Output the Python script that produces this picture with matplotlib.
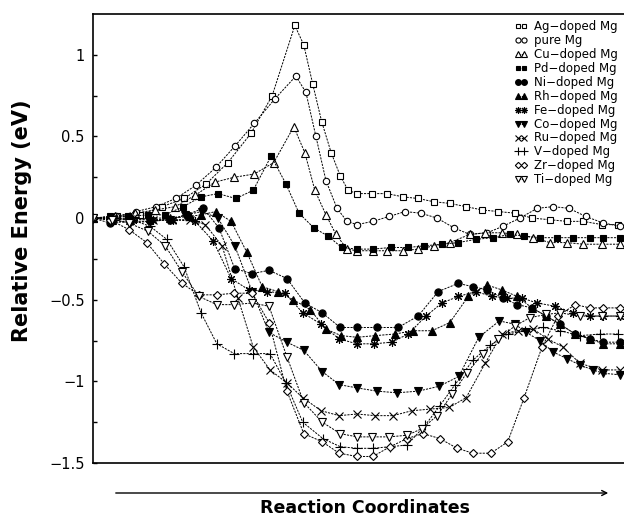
import matplotlib
matplotlib.use("Agg")
import matplotlib.pyplot as plt

# ---- data (reaction coordinate in arbitrary units, energy in eV) ----
ag_x = [0, 4.6, 8.9, 13.1, 17.3, 21.5, 25.6, 30.0, 34.0, 38.3, 40.0, 41.7, 43.4, 45.2, 46.9, 48.4, 50.1,
        52.9, 55.8, 58.8, 61.7, 64.7, 67.7, 70.8, 73.8, 76.9, 80.1, 83.3, 86.7, 89.9, 93.0, 96.6, 99.6]
ag_y = [0, 0.01, 0.02, 0.07, 0.12, 0.21, 0.34, 0.52, 0.75, 1.18, 1.06, 0.82, 0.59, 0.40, 0.26, 0.17, 0.15,
        0.15, 0.15, 0.13, 0.12, 0.10, 0.09, 0.07, 0.05, 0.04, 0.03, 0, -0.01, -0.02, -0.02, -0.04, -0.04]

pure_x = [0, 4.4, 8.2, 12.0, 15.7, 19.5, 23.3, 26.9, 30.6, 34.5, 38.5, 40.4, 42.3, 44.2, 46.3, 48.2, 50.1,
          53.1, 56.2, 59.2, 62.2, 65.3, 68.5, 71.5, 74.8, 77.8, 81.0, 84.3, 87.3, 90.3, 93.5, 96.8, 100.0]
pure_y = [0, 0.01, 0.04, 0.07, 0.12, 0.20, 0.31, 0.44, 0.58, 0.73, 0.87, 0.77, 0.50, 0.23, 0.06, -0.02, -0.04,
          -0.02, 0.01, 0.04, 0.03, 0, -0.06, -0.10, -0.09, -0.05, 0, 0.06, 0.07, 0.06, 0.01, -0.03, -0.05]

cu_x = [0, 4.2, 8.0, 11.8, 15.6, 19.4, 23.1, 26.8, 30.6, 34.3, 38.1, 40.2, 42.1, 44.2, 46.1, 48.2, 50.1,
        53.1, 55.8, 58.8, 61.7, 64.7, 67.7, 71.5, 74.4, 77.6, 80.5, 83.5, 86.7, 89.9, 93.0, 96.6, 100.0]
cu_y = [0, 0.01, 0.03, 0.05, 0.07, 0.14, 0.22, 0.25, 0.27, 0.34, 0.56, 0.40, 0.17, 0.02, -0.10, -0.19, -0.20,
        -0.20, -0.20, -0.20, -0.19, -0.17, -0.15, -0.10, -0.09, -0.09, -0.10, -0.12, -0.15, -0.15, -0.16, -0.16, -0.16]

pd_x = [0, 3.2, 6.6, 10.4, 13.7, 17.1, 20.5, 23.7, 27.1, 30.4, 33.8, 36.6, 39.1, 41.9, 44.6, 47.2, 50.1,
        53.1, 56.5, 59.8, 62.8, 66.2, 69.3, 72.7, 75.9, 79.1, 81.8, 84.8, 88.0, 91.1, 94.3, 96.8, 100.0]
pd_y = [0, 0.01, 0.01, 0.02, 0.02, 0.07, 0.13, 0.15, 0.12, 0.17, 0.38, 0.21, 0.03, -0.06, -0.11, -0.18, -0.19,
        -0.19, -0.18, -0.18, -0.17, -0.16, -0.15, -0.13, -0.12, -0.10, -0.11, -0.12, -0.12, -0.12, -0.12, -0.12, -0.12]

ni_x = [0, 3.2, 7.0, 10.8, 14.6, 17.8, 20.9, 23.9, 26.9, 30.2, 33.4, 36.8, 40.2, 43.5, 46.9, 50.1,
        53.9, 57.9, 61.7, 65.5, 69.3, 72.1, 74.8, 77.8, 80.5, 83.3, 86.0, 88.6, 91.5, 94.3, 96.8, 100.0]
ni_y = [0, -0.03, -0.02, -0.02, -0.01, 0.02, 0.06, -0.06, -0.31, -0.34, -0.32, -0.37, -0.52, -0.58, -0.67, -0.67,
        -0.67, -0.67, -0.60, -0.45, -0.40, -0.42, -0.44, -0.49, -0.53, -0.55, -0.60, -0.65, -0.71, -0.74, -0.76, -0.76]

rh_x = [0, 3.6, 7.0, 10.8, 14.6, 18.4, 20.5, 23.3, 26.2, 29.2, 32.1, 35.1, 38.0, 41.2, 44.2, 47.1, 50.1,
        53.5, 57.3, 60.7, 64.3, 67.7, 71.2, 74.8, 77.6, 80.5, 83.3, 86.0, 88.6, 91.5, 94.3, 96.8, 100.0]
rh_y = [0, -0.01, -0.01, 0, 0, 0.01, 0.02, 0.04, -0.02, -0.21, -0.42, -0.45, -0.50, -0.56, -0.68, -0.72, -0.73,
        -0.72, -0.71, -0.69, -0.69, -0.64, -0.48, -0.41, -0.44, -0.48, -0.55, -0.60, -0.65, -0.71, -0.74, -0.77, -0.77]

fe_x = [0, 3.8, 7.6, 11.4, 15.2, 19.4, 22.8, 26.2, 29.6, 33.0, 36.4, 39.8, 43.3, 46.7, 50.1, 53.3,
        56.7, 59.8, 63.2, 66.2, 69.3, 72.7, 75.7, 78.6, 81.4, 84.3, 87.7, 91.1, 94.3, 96.8, 100.0]
fe_y = [0, 0, -0.01, -0.01, -0.01, -0.02, -0.14, -0.37, -0.44, -0.45, -0.46, -0.58, -0.65, -0.74, -0.77, -0.77,
        -0.76, -0.71, -0.60, -0.52, -0.48, -0.45, -0.48, -0.49, -0.49, -0.52, -0.54, -0.58, -0.60, -0.60, -0.60]

co_x = [0, 3.8, 7.0, 10.8, 14.6, 17.5, 20.7, 23.7, 26.9, 30.2, 33.4, 36.8, 40.0, 43.5, 46.7, 50.1,
        53.9, 57.7, 61.7, 65.7, 69.4, 73.2, 77.1, 80.1, 82.2, 84.8, 87.3, 89.9, 92.4, 94.9, 96.8, 100.0]
co_y = [0, -0.01, -0.03, -0.02, -0.01, 0.02, 0.04, 0, -0.17, -0.45, -0.70, -0.76, -0.81, -0.94, -1.02, -1.04,
        -1.06, -1.07, -1.06, -1.03, -0.97, -0.73, -0.63, -0.65, -0.70, -0.75, -0.82, -0.86, -0.90, -0.93, -0.95, -0.96]

ru_x = [0, 3.8, 7.6, 11.4, 15.0, 18.4, 21.3, 24.5, 27.5, 30.4, 33.6, 36.8, 39.8, 43.3, 46.7, 50.1,
        53.5, 56.9, 60.5, 63.9, 67.6, 70.8, 74.4, 77.6, 80.6, 83.5, 86.3, 89.2, 92.4, 96.6, 100.0]
ru_y = [0, 0, 0, -0.01, -0.01, -0.01, -0.04, -0.17, -0.49, -0.79, -0.93, -1.01, -1.10, -1.18, -1.21, -1.20,
        -1.21, -1.21, -1.18, -1.17, -1.16, -1.10, -0.89, -0.71, -0.69, -0.68, -0.74, -0.79, -0.89, -0.93, -0.93]

v_x = [0, 3.6, 7.4, 10.8, 14.0, 17.3, 20.5, 23.5, 26.8, 30.4, 33.6, 36.6, 39.8, 43.6, 46.9, 50.1,
       53.1, 56.4, 59.6, 63.0, 65.8, 68.7, 72.1, 75.3, 78.7, 81.9, 85.4, 88.6, 92.4, 96.2, 99.6]
v_y = [0, 0, -0.01, -0.05, -0.13, -0.30, -0.58, -0.77, -0.83, -0.83, -0.83, -1.01, -1.25, -1.35, -1.40, -1.41,
       -1.41, -1.40, -1.39, -1.27, -1.15, -1.02, -0.87, -0.78, -0.71, -0.69, -0.67, -0.69, -0.72, -0.71, -0.71]

zr_x = [0, 3.2, 6.8, 10.2, 13.5, 16.9, 20.1, 23.5, 26.8, 30.2, 33.4, 36.8, 40.0, 43.5, 46.7, 50.1,
        53.1, 56.4, 59.6, 62.6, 65.8, 69.1, 72.1, 75.5, 78.7, 81.8, 85.2, 88.2, 91.5, 94.3, 96.8, 100.0]
zr_y = [0, -0.01, -0.07, -0.15, -0.28, -0.40, -0.47, -0.47, -0.46, -0.46, -0.64, -1.06, -1.32, -1.37, -1.44, -1.46,
        -1.46, -1.40, -1.35, -1.32, -1.35, -1.41, -1.44, -1.44, -1.37, -1.10, -0.79, -0.60, -0.53, -0.55, -0.55, -0.55]

ti_x = [0, 3.6, 6.8, 10.4, 13.7, 16.9, 20.1, 23.5, 26.8, 30.2, 33.4, 36.8, 40.0, 43.5, 46.9, 50.1,
        52.9, 56.2, 59.6, 62.4, 65.3, 68.1, 70.9, 74.0, 76.9, 80.1, 82.9, 86.0, 88.6, 92.4, 96.6, 100.0]
ti_y = [0, -0.01, -0.03, -0.08, -0.17, -0.33, -0.48, -0.53, -0.53, -0.52, -0.54, -0.85, -1.13, -1.25, -1.32, -1.34,
        -1.34, -1.34, -1.33, -1.29, -1.21, -1.08, -0.95, -0.83, -0.74, -0.66, -0.61, -0.59, -0.58, -0.60, -0.60, -0.60]

ytick_values = [-1.5, -1.25, -1.0, -0.75, -0.5, -0.25, 0, 0.25, 0.5, 0.75, 1.0]
ytick_labels = ["\u22121.5", "", "\u22121", "", "\u22120.5", "", "0", "", "0.5", "", "1"]

# (label, x, y, marker, filled, size)
series = [
    ("Ag\u2212doped Mg", ag_x, ag_y, "s", False, 4.4),
    ("pure Mg", pure_x, pure_y, "o", False, 4.6),
    ("Cu\u2212doped Mg", cu_x, cu_y, "^", False, 5.4),
    ("Pd\u2212doped Mg", pd_x, pd_y, "s", True, 4.4),
    ("Ni\u2212doped Mg", ni_x, ni_y, "o", True, 5.2),
    ("Rh\u2212doped Mg", rh_x, rh_y, "^", True, 5.4),
    ("Fe\u2212doped Mg", fe_x, fe_y, (8, 2, 0), True, 6.2),
    ("Co\u2212doped Mg", co_x, co_y, "v", True, 5.4),
    ("Ru\u2212doped Mg", ru_x, ru_y, "x", True, 5.8),
    ("V\u2212doped Mg", v_x, v_y, "+", True, 7.2),
    ("Zr\u2212doped Mg", zr_x, zr_y, "D", False, 4.0),
    ("Ti\u2212doped Mg", ti_x, ti_y, "v", False, 5.4),
]

fig = plt.figure(figsize=(6.24, 5.18), dpi=100)
ax = fig.add_axes([93 / 624, 1 - 463 / 518, 1 - 93 / 624, (463 - 14) / 518])

for label, xs, ys, mk, filled, ms in series:
    ax.plot(xs, ys, color="black", linestyle=(0, (2.2, 1.2)), linewidth=0.7,
            marker=mk, markersize=ms, markerfacecolor="black" if filled else "white",
            markeredgecolor="black", markeredgewidth=0.8, label=label)

ax.set_xlim(0, 100.76)
ax.set_ylim(-1.5, 1.25)
ax.set_xticks([])
ax.set_yticks(ytick_values)
ax.set_yticklabels(ytick_labels, fontsize=10.5)
ax.tick_params(axis="y", direction="in", length=3, width=1, pad=6)
ax.spines["right"].set_visible(False)
for s in ("left", "top", "bottom"):
    ax.spines[s].set_linewidth(1.2)

leg = ax.legend(loc="upper right", bbox_to_anchor=(1.0, 1.0), frameon=False, fontsize=8.5,
                numpoints=2, handlelength=1.1, handleheight=0.6, handletextpad=0.6,
                labelspacing=0.08, borderaxespad=0.1, markerscale=0.8)

# reaction coordinate arrow below the axes
fig.add_artist(matplotlib.patches.FancyArrowPatch(
    (113 / 624, 1 - 493 / 518), (611 / 624, 1 - 493 / 518), transform=fig.transFigure,
    arrowstyle="->", mutation_scale=9, linewidth=1, color="black"))
fig.text(0.585, 1 - 508 / 518, "Reaction Coordinates", ha="center", va="center",
         fontsize=12.5, fontweight="bold")
fig.text(0.036, 1 - 221 / 518, "Relative Energy (eV)", ha="center", va="center",
         rotation=90, fontsize=15, fontweight="bold")

fig.savefig("out.png", dpi=100)
